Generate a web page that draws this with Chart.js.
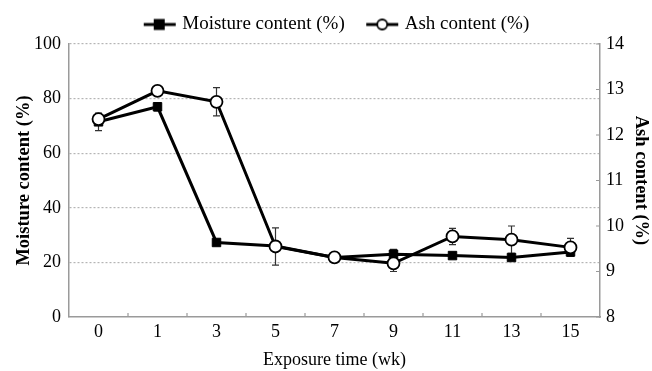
<!DOCTYPE html>
<html>
<head>
<meta charset="utf-8">
<script src="https://cdn.jsdelivr.net/npm/chart.js@4/dist/chart.umd.min.js"></script>
<style>
  html, body { margin: 0; padding: 0; background: #fff; }
  #wrap { width: 652px; height: 371px; }
</style>
</head>
<body>
<div id="wrap"><canvas id="chart" width="652" height="371"></canvas></div>
<script>
// exposure weeks
const weeks = ['0', '1', '3', '5', '7', '9', '11', '13', '15'];
// moisture content (%), left axis
const moisture = [71.5, 77, 27.3, 26, 21.8, 23, 22.5, 21.8, 23.8];
const moistureErr = [3.2, 1.5, 1, 1, 0.8, 1.8, 1, 0.8, 1];
// ash content (%), right axis
const ash = [12.35, 12.97, 12.73, 9.55, 9.31, 9.18, 9.77, 9.7, 9.53];
const ashErr = [0.12, 0.05, 0.31, 0.41, 0.05, 0.18, 0.18, 0.3, 0.2];
const leftTicks = [0, 20, 40, 60, 80, 100];
const rightTicks = [8, 9, 10, 11, 12, 13, 14];

const serif = '"Liberation Serif", "Times New Roman", serif';
const axisGray = '#9a9a9a';

// small legend icons: line with marker through it
function legendIcon(kind) {
  const c = document.createElement('canvas');
  c.width = 34; c.height = 14;
  const g = c.getContext('2d');
  g.strokeStyle = '#000';
  g.lineWidth = 3;
  g.beginPath(); g.moveTo(1, 7); g.lineTo(33, 7); g.stroke();
  if (kind === 'square') {
    g.fillStyle = '#000';
    g.fillRect(11, 1.5, 11, 11);
  } else {
    g.fillStyle = '#fff';
    g.lineWidth = 1.8;
    g.beginPath(); g.arc(17, 7, 5, 0, Math.PI * 2); g.fill(); g.stroke();
  }
  return c;
}

// error bars drawn under the markers
const errorBars = {
  id: 'errorBars',
  beforeDatasetsDraw(chart) {
    const ctx = chart.ctx;
    const x = chart.scales.x;
    const sets = [[moisture, moistureErr, chart.scales.y], [ash, ashErr, chart.scales.y2]];
    ctx.save();
    ctx.strokeStyle = '#333';
    ctx.lineWidth = 1.2;
    sets.forEach(([vals, errs, ys]) => {
      vals.forEach((v, i) => {
        const px = x.getPixelForValue(i);
        const top = ys.getPixelForValue(v + errs[i]);
        const bot = ys.getPixelForValue(v - errs[i]);
        ctx.beginPath();
        ctx.moveTo(px, top); ctx.lineTo(px, bot);
        ctx.moveTo(px - 3.5, top); ctx.lineTo(px + 3.5, top);
        ctx.moveTo(px - 3.5, bot); ctx.lineTo(px + 3.5, bot);
        ctx.stroke();
      });
    });
    ctx.restore();
  }
};

// inward tick marks on x and right axes, legend nudged right
const innerTicks = {
  id: 'innerTicks',
  afterLayout(chart) {
    chart.legend.left += 12;
    chart.legend.right += 12;
  },
  afterDraw(chart) {
    const ctx = chart.ctx;
    const x = chart.scales.x, y2 = chart.scales.y2;
    const area = chart.chartArea;
    ctx.save();
    ctx.strokeStyle = axisGray;
    ctx.lineWidth = 1.2;
    ctx.beginPath();
    for (let i = 0; i < weeks.length - 1; i++) {
      const px = (x.getPixelForValue(i) + x.getPixelForValue(i + 1)) / 2;
      ctx.moveTo(px, area.bottom); ctx.lineTo(px, area.bottom - 4);
    }
    rightTicks.forEach(t => {
      const py = y2.getPixelForValue(t);
      ctx.moveTo(area.right, py); ctx.lineTo(area.right - 4, py);
    });
    ctx.stroke();
    ctx.restore();
  }
};

new Chart(document.getElementById('chart'), {
  type: 'line',
  data: {
    labels: weeks,
    datasets: [
      {
        label: 'Moisture content (%)',
        data: moisture,
        yAxisID: 'y',
        order: 2,
        borderColor: '#000',
        borderWidth: 3,
        pointStyle: 'rect',
        pointRadius: 6,
        pointBackgroundColor: '#000',
        pointBorderColor: '#000',
        pointBorderWidth: 1,
        tension: 0
      },
      {
        label: 'Ash content (%)',
        data: ash,
        yAxisID: 'y2',
        order: 1,
        borderColor: '#000',
        borderWidth: 3,
        pointStyle: 'circle',
        pointRadius: 6,
        pointBackgroundColor: '#fff',
        pointBorderColor: '#000',
        pointBorderWidth: 1.8,
        tension: 0
      }
    ]
  },
  options: {
    responsive: false,
    animation: false,
    layout: { padding: { top: 0, right: 0, left: 0, bottom: 0 } },
    plugins: {
      tooltip: { enabled: false },
      legend: {
        position: 'top',
        labels: {
          color: '#000',
          font: { family: serif, size: 19 },
          usePointStyle: true,
          pointStyleWidth: 26,
          padding: 15,
          generateLabels: () => [
            { text: 'Moisture content (%)  ', pointStyle: legendIcon('square'), fillStyle: '#000', strokeStyle: '#000', lineWidth: 0, datasetIndex: 0 },
            { text: 'Ash content (%)', pointStyle: legendIcon('circle'), fillStyle: '#fff', strokeStyle: '#000', lineWidth: 0, datasetIndex: 1 }
          ]
        }
      }
    },
    scales: {
      x: {
        offset: true,
        grid: { display: false, offset: true, drawTicks: false },
        border: { display: true, color: axisGray, width: 1.5 },
        ticks: { color: '#000', font: { family: serif, size: 18 }, padding: 4, maxRotation: 0 },
        title: { display: true, text: 'Exposure time (wk)', color: '#000', font: { family: serif, size: 18 }, padding: { top: 0, bottom: 0 } },
        afterFit(s) { s.height = 54; }
      },
      y: {
        position: 'left',
        min: 0, max: 100,
        afterBuildTicks(s) { s.ticks = leftTicks.map(v => ({ value: v })); },
        grid: {
          color: ctx => ctx.tick && ctx.tick.value === 0 ? 'rgba(0,0,0,0)' : '#b5b5b5',
          lineWidth: 1.2,
          drawTicks: false
        },
        border: { display: true, color: axisGray, width: 1.5, dash: [2, 2] },
        ticks: { color: '#000', font: { family: serif, size: 18 }, padding: 8 },
        title: { display: true, text: 'Moisture content (%)', color: '#000', font: { family: serif, size: 18.5, weight: 'bold' }, padding: { top: 13, bottom: 0 } },
        afterFit(s) { s.width = 69; }
      },
      y2: {
        position: 'right',
        min: 8, max: 14,
        afterBuildTicks(s) { s.ticks = rightTicks.map(v => ({ value: v })); },
        grid: { drawOnChartArea: false, drawTicks: false },
        border: { display: true, color: axisGray, width: 1.5 },
        ticks: { color: '#000', font: { family: serif, size: 18 }, padding: 6 },
        title: { display: true, text: 'Ash content (%)', color: '#000', font: { family: serif, size: 18.5, weight: 'bold' }, padding: { top: 0, bottom: 0 } },
        afterFit(s) { s.width = 52; }
      }
    }
  },
  plugins: [errorBars, innerTicks]
});
</script>
</body>
</html>
